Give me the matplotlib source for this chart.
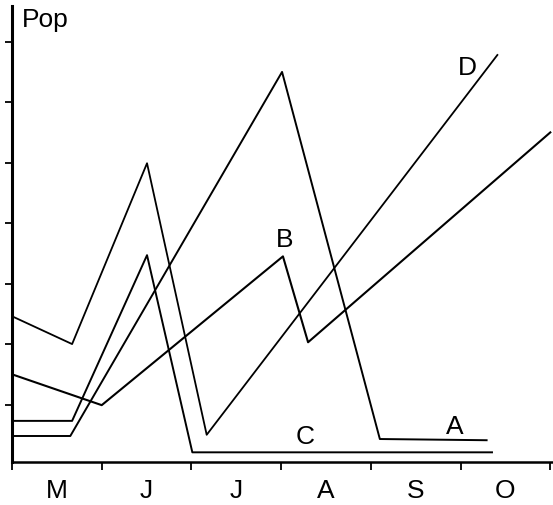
import matplotlib.pyplot as plt
from matplotlib.ticker import FixedLocator

plt.rcParams['font.family'] = ['Liberation Sans', 'DejaVu Sans']

months = ["M", "J", "J", "A", "S", "O"]

# x in month units (tick 0 = start of May), y in arbitrary population units
a_x = [0.0, 0.65, 3.01, 4.10, 5.29]
a_y = [0.48, 0.48, 6.50, 0.43, 0.41]

b_x = [0.0, 1.00, 3.02, 3.30, 6.0]
b_y = [1.50, 0.99, 3.45, 2.03, 5.50]

c_x = [0.0, 0.67, 1.505, 2.01, 5.35]
c_y = [0.73, 0.73, 3.47, 0.21, 0.21]

d_x = [0.0, 0.67, 1.505, 2.17, 5.41]
d_y = [2.46, 2.00, 4.99, 0.50, 6.78]

labels = {"A": (4.94, 0.63), "B": (3.04, 3.72), "C": (3.27, 0.46), "D": (5.08, 6.56)}

fig = plt.figure(figsize=(5.53, 5.05), dpi=100)
ax = fig.add_axes([12 / 553, 43 / 505, 541 / 553, 456 / 505])

ax.plot(a_x, a_y, color="black", lw=1.4)
ax.plot(b_x, b_y, color="black", lw=1.5)
ax.plot(c_x, c_y, color="black", lw=1.4)
ax.plot(d_x, d_y, color="black", lw=1.3)

for name, (x, y) in labels.items():
    ax.text(x, y, name, fontsize=19, ha="center", va="center")

ax.text(0.11, 7.36, "Pop", fontsize=19, ha="left", va="center")

ax.set_xlim(0, 6.03)
ax.set_ylim(0.05, 7.59)

for side in ["top", "right"]:
    ax.spines[side].set_visible(False)
ax.spines["left"].set_linewidth(2.2)
ax.spines["bottom"].set_linewidth(1.8)

ax.xaxis.set_major_locator(FixedLocator(range(7)))
ax.xaxis.set_minor_locator(FixedLocator([i + 0.5 for i in range(6)]))
ax.set_xticklabels([], minor=False)
ax.set_xticklabels(months, minor=True, fontsize=19)
ax.tick_params(axis="x", which="major", direction="out", length=6, width=1.3)
ax.tick_params(axis="x", which="minor", length=0, pad=12)

ax.set_yticks(range(1, 8))
ax.set_yticklabels([])
ax.tick_params(axis="y", direction="out", length=5, width=1.3)

fig.savefig("out.png", dpi=100)
